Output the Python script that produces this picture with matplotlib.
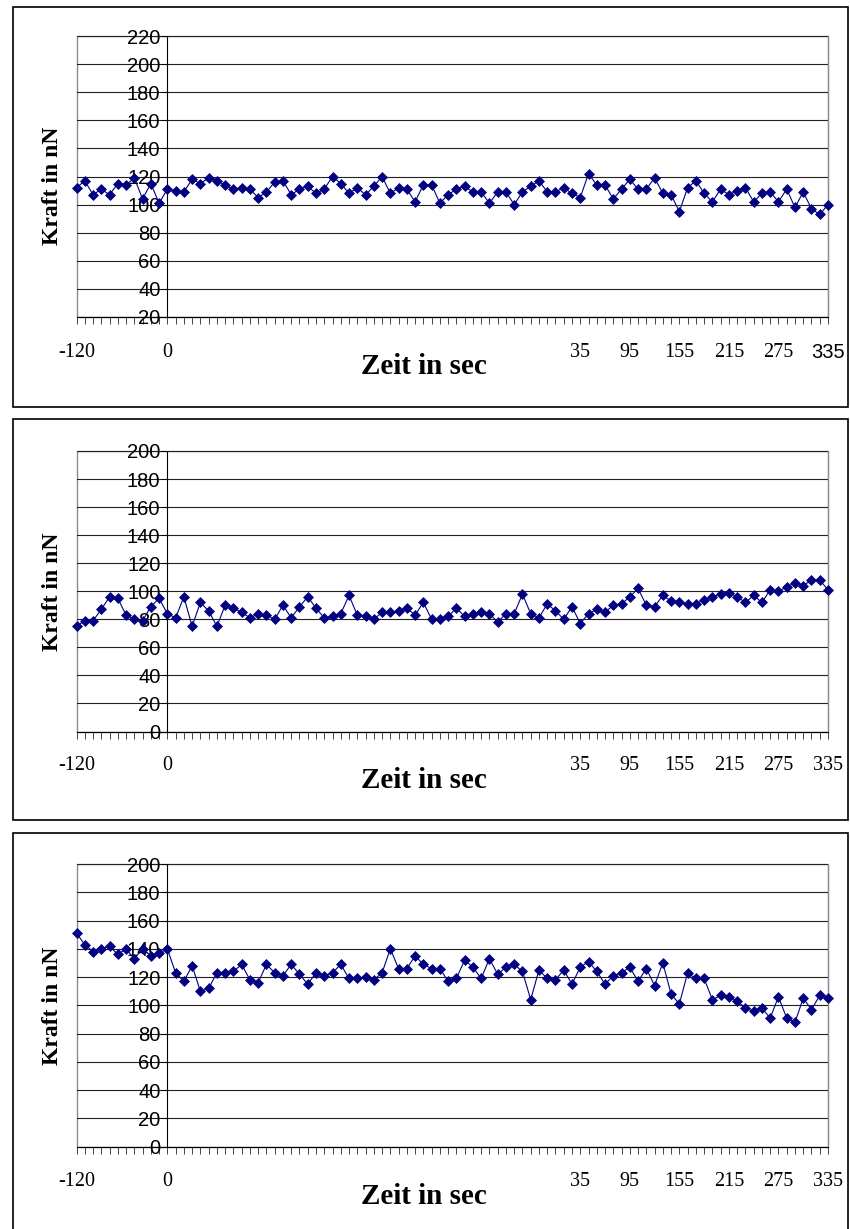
import matplotlib.pyplot as plt
from matplotlib.patches import Rectangle

W, H = 850, 1229
NAVY = '#000080'

# category labels of the time axis (only a few are shown in the original)
zeit_labels = (['-120'] + [''] * 10 + ['0'] + [''] * 49 + ['35'] + [''] * 5 + ['95']
               + [''] * 5 + ['155'] + [''] * 5 + ['215'] + [''] * 5 + ['275']
               + [''] * 5 + ['335'])

kraft_1 = [112, 117, 107, 111, 107, 115, 114, 119, 104, 115, 101, 111, 110, 109,
           118, 115, 119, 117, 114, 111, 112, 111, 105, 109, 116, 117, 107, 111,
           113, 108, 111, 120, 115, 108, 112, 107, 113, 120, 108, 112, 111, 102,
           114, 114, 101, 107, 111, 113, 109, 109, 101, 109, 109, 100, 109, 113,
           117, 109, 109, 112, 108, 105, 122, 114, 114, 104, 111, 118, 111, 111,
           119, 108, 107, 95, 112, 117, 108, 102, 111, 107, 110, 112, 102, 108,
           109, 102, 111, 98, 109, 97, 93, 100]

kraft_2 = [75, 79, 79, 87, 96, 95, 83, 80, 79, 89, 95, 84, 81, 96, 75, 92, 86, 75,
           90, 88, 85, 81, 84, 83, 80, 90, 81, 89, 96, 88, 81, 82, 84, 97, 83, 82,
           80, 85, 85, 86, 88, 83, 92, 80, 80, 82, 88, 82, 84, 85, 84, 78, 84, 84,
           98, 84, 81, 91, 86, 80, 89, 77, 84, 87, 85, 90, 91, 96, 102, 90, 89, 97,
           93, 92, 91, 91, 94, 96, 98, 99, 96, 92, 97, 92, 101, 100, 103, 106, 104,
           108, 108, 101]

kraft_3 = [151, 143, 138, 140, 142, 136, 140, 133, 140, 135, 137, 140, 123, 117,
           128, 110, 112, 123, 123, 124, 129, 118, 116, 129, 123, 121, 129, 122,
           115, 123, 121, 123, 129, 119, 119, 120, 118, 123, 140, 126, 126, 135,
           129, 126, 126, 117, 119, 132, 127, 119, 133, 122, 127, 129, 124, 104,
           125, 119, 118, 125, 115, 127, 131, 124, 115, 121, 123, 127, 117, 126,
           114, 130, 108, 101, 123, 119, 119, 104, 107, 106, 103, 98, 96, 98, 91,
           106, 91, 88, 105, 97, 107, 105]


def fx(x):
    return x / W


def fy(y):
    return 1 - y / H


def draw_panel(fig, box, plot, werte, ymin, ymax, pad, xlab_y, ylab_y, sans_last=False):
    l, t, r, b = box
    fig.patches.append(Rectangle((fx(l), fy(b)), (r - l) / W, (b - t) / H,
                                 transform=fig.transFigure, fill=False,
                                 ec='black', lw=1.2))
    pl, pt, pr, pb = plot
    ax = fig.add_axes([fx(pl), fy(pb), (pr - pl) / W, (pb - pt) / H])
    x = list(range(len(werte)))
    ax.plot(x, werte, color=NAVY, lw=0.8, marker='D', ms=4.8, mfc=NAVY, mec=NAVY,
            mew=0.5, clip_on=False, zorder=4)
    ax.set_xlim(0, len(werte) - 1)
    ax.set_ylim(ymin, ymax)
    ax.set_yticks(range(ymin, ymax + 1, 20))
    ax.yaxis.grid(True, color='#222222', lw=0.8)
    ax.set_axisbelow(True)

    # gray plot area frame, y axis crosses at category "0"
    ax.add_patch(Rectangle((0, 0), 1, 1, transform=ax.transAxes, fill=False,
                           ec='#8c8c8c', lw=1.0, zorder=0.5, clip_on=False))
    ax.spines['left'].set_position(('data', zeit_labels.index('0')))
    ax.spines['left'].set_color('black')
    ax.spines['left'].set_linewidth(0.8)
    ax.spines['bottom'].set_color('black')
    ax.spines['bottom'].set_linewidth(0.8)
    ax.spines['top'].set_visible(False)
    ax.spines['right'].set_color('#8c8c8c')

    ax.set_xticks(x)
    ax.set_xticklabels(zeit_labels, family='Liberation Serif', fontsize=14.5)
    if sans_last:
        ax.get_xticklabels()[-1].set_family('Liberation Sans')
    ax.tick_params(axis='x', direction='out', length=5, width=0.7,
                   color='#444444', pad=pad)
    ax.tick_params(axis='y', direction='out', length=4, width=0.7, pad=1,
                   labelsize=14.5)
    for lab in ax.get_yticklabels():
        lab.set_family('Liberation Sans')

    fig.text(fx(424), fy(xlab_y), 'Zeit in sec', family='Liberation Serif',
             weight='bold', fontsize=21, ha='center', va='center')
    fig.text(fx(52), fy(ylab_y), 'Kraft in nN', family='Liberation Serif',
             weight='bold', fontsize=17, rotation=90, ha='center', va='center')
    return ax


def main():
    fig = plt.figure(figsize=(W / 100, H / 100), dpi=100)
    draw_panel(fig, (12.7, 7.3, 848, 406.7), (76.5, 36, 828, 317), kraft_1,
               20, 220, 14, 367, 186, sans_last=True)
    draw_panel(fig, (12.7, 419, 848, 820), (76.5, 451, 828, 731.5), kraft_2,
               0, 200, 13, 781, 592)
    draw_panel(fig, (12.7, 833, 848, 1245), (76.5, 864, 828, 1146.7), kraft_3,
               0, 200, 13, 1197, 1006)
    fig.savefig('out.png', dpi=100)


if __name__ == '__main__':
    main()
